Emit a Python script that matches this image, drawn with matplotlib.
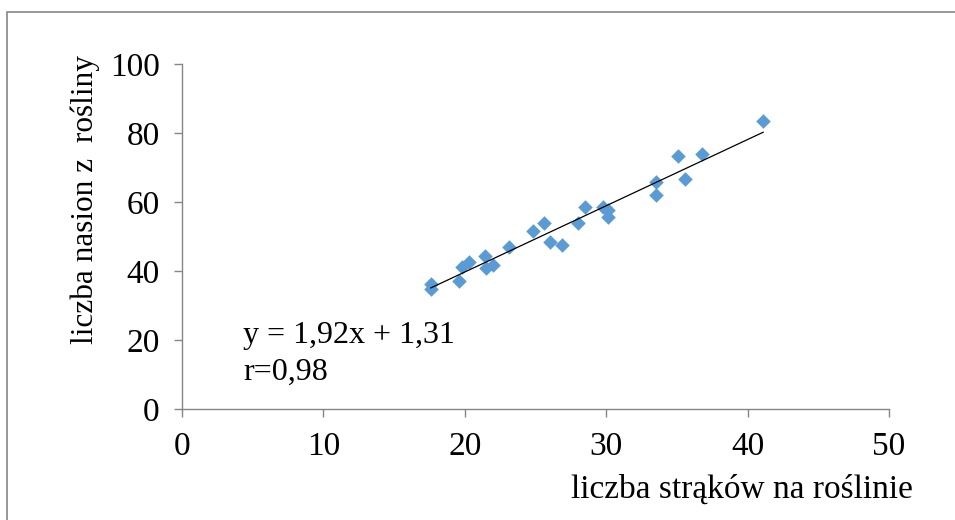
import numpy as np
import matplotlib
matplotlib.use('Agg')
import matplotlib.pyplot as plt
from matplotlib.patches import Rectangle

# liczba strąków na roślinie / liczba nasion z rośliny
straki = [17.6, 17.6, 19.6, 19.8, 20.3, 21.4, 21.5, 22.0, 23.1, 24.8, 25.6, 26.0,
          26.9, 28.0, 28.5, 29.8, 30.1, 30.1, 33.5, 33.5, 35.1, 35.6, 36.8, 41.1]
nasiona = [36.1, 34.9, 37.0, 41.2, 42.5, 44.4, 40.8, 41.8, 47.0, 51.7, 53.9, 48.3,
           47.4, 53.8, 58.5, 58.6, 57.7, 55.6, 65.7, 62.0, 73.3, 66.6, 73.8, 83.5]
slope, intercept = 1.92, 1.31
x_ticks = [0, 10, 20, 30, 40, 50]
y_ticks = [0, 20, 40, 60, 80, 100]

plt.rcParams['font.family'] = ['Liberation Serif', 'DejaVu Serif']
grey = '#868686'

fig = plt.figure(figsize=(9.55, 5.2), dpi=100)
ax = fig.add_axes([182 / 955, 1 - 409 / 520, 707 / 955, 345 / 520])

ax.scatter(straki, nasiona, marker='D', s=55, color='#5B9BD5', zorder=3, linewidths=0)
xs = np.array([min(straki), max(straki)])
ax.plot(xs, slope * xs + intercept, color='black', lw=0.9, zorder=4)

ax.set_xlim(0, 50)
ax.set_ylim(0, 100)
ax.set_xticks(x_ticks)
ax.set_yticks(y_ticks)
ax.tick_params(direction='out', length=6, width=1, color=grey, labelsize=24)
ax.tick_params(axis='x', pad=10)
ax.tick_params(axis='y', pad=10)
for side in ['top', 'right']:
    ax.spines[side].set_visible(False)
for side in ['left', 'bottom']:
    ax.spines[side].set_color(grey)
    ax.spines[side].set_linewidth(1)

fig.text(85 / 955, 1 - 200 / 520, 'liczba nasion z  rośliny', fontsize=22.5,
         rotation=90, ha='center', va='center')
fig.text(913 / 955, 1 - 490 / 520, 'liczba strąków na roślinie', fontsize=24,
         ha='right', va='center')
fig.text(243 / 955, 1 - 335 / 520, 'y = 1,92x + 1,31', fontsize=23, va='center')
fig.text(243 / 955, 1 - 372 / 520, 'r=0,98', fontsize=23, va='center')

# chart frame, cut off at right and bottom
fig.add_artist(Rectangle((7 / 955, -0.1), 2, 1 - 12 / 520 + 0.1, fill=False,
                         edgecolor=grey, lw=1.2, transform=fig.transFigure))

fig.savefig('out.png', dpi=100)
